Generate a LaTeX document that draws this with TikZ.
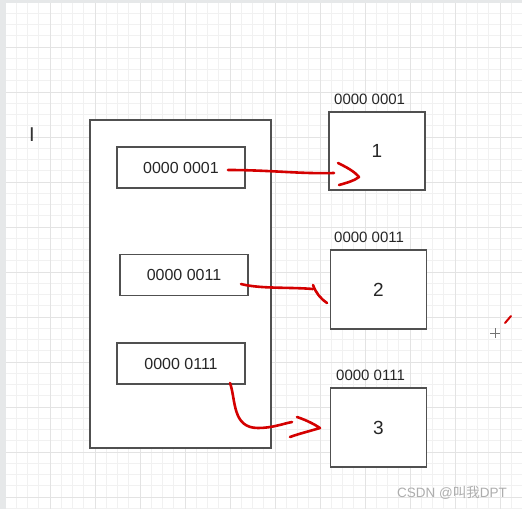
\documentclass[tikz,border=0pt]{standalone}
\usepackage{fontspec}
\usetikzlibrary{calc}
\setmainfont{Liberation Sans}
\newfontfamily\cjk{Noto Sans CJK SC}
\definecolor{boxline}{HTML}{505050}
\definecolor{pen}{HTML}{D40000}
\definecolor{gridminor}{HTML}{F1F1F1}
\definecolor{gridmajor}{HTML}{E3E3E3}
\definecolor{band}{HTML}{E6E8E9}
\tikzset{
  cell/.style={draw=boxline, line width=1.2pt, fill=white, inner sep=0pt},
  inner/.style={cell, minimum width=128pt, minimum height=41pt, font=\fontsize{16}{18}\selectfont, text=black!85},
  target/.style={cell, minimum width=96pt, minimum height=79pt, font=\fontsize{19}{21}\selectfont, text=black!85},
  addr/.style={anchor=west, inner sep=0pt, font=\fontsize{15}{17}\selectfont, text=black!85},
  ink/.style={draw=pen, line width=2.6pt, line cap=round, line join=round}
}
\begin{document}
\begin{tikzpicture}[x=1pt, y=-1pt]
\useasboundingbox (0,0) rectangle (522,509);
\fill[white] (0,0) rectangle (522,509);
% grid
\foreach \i in {0,...,46} {
  \draw[gridminor, line width=0.9pt] ({5+\i*11.25},0) -- ({5+\i*11.25},509);
}
\foreach \i in {0,...,45} {
  \draw[gridminor, line width=0.9pt] (0,{2+\i*11.25}) -- (522,{2+\i*11.25});
}
\foreach \i in {0,...,11} {
  \draw[gridmajor, line width=1pt] ({5+\i*45},0) -- ({5+\i*45},509);
  \draw[gridmajor, line width=1pt] (0,{2+\i*45}) -- (522,{2+\i*45});
}
\fill[band] (0,0) rectangle (522,3);
\fill[band] (0,0) rectangle (6,509);

% cursor mark
\node[inner sep=0pt, font=\fontsize{20}{22}\selectfont, text=black!80] (cursor) at (32,134.5) {I};

% memory block
\node[cell, minimum width=181pt, minimum height=328pt] (mem) at (180.5,284) {};
\node[inner] (p1) at (181,167.5) {0000 0001};
\node[inner] (p2) at (184,275) {0000 0011};
\node[inner] (p3) at (181,363.5) {0000 0111};

% targets
\node[target, minimum width=96pt, minimum height=78pt] (t1) at (377,151) {1};
\node[target] (t2) at (378.5,289.5) {2};
\node[target] (t3) at (378.5,427.5) {3};
\node[addr] (l1) at (334,99) {0000 0001};
\node[addr] (l2) at (334,237) {0000 0011};
\node[addr] (l3) at (336,375) {0000 0111};

% hand-drawn arrows
\coordinate (a1s) at (228,170);
\coordinate (a1e) at (334,173);
\coordinate (h1a) at (338,163);
\coordinate (h1b) at (359,177);
\coordinate (h1c) at (339,185);
\draw[ink] (a1s) .. controls (270,170) and (300,174) .. (a1e);
\draw[ink] (h1a) .. controls (346,167) and (354,171) .. (h1b) .. controls (354,181) and (346,183) .. (h1c);

\coordinate (a2s) at (241,284);
\coordinate (a2e) at (313,289);
\coordinate (h2a) at (313,285);
\coordinate (h2b) at (327,303);
\draw[ink] (a2s) .. controls (260,289) and (290,287) .. (a2e);
\draw[ink] (h2a) .. controls (316,293) and (320,298) .. (h2b);

\coordinate (a3s) at (230,383);
\coordinate (a3e) at (292,422);
\coordinate (h3a) at (297,417);
\coordinate (h3b) at (320,428);
\coordinate (h3c) at (290,437);
\draw[ink] (a3s) .. controls (236,400) and (232,428) .. (258,428) .. controls (272,428) and (282,424) .. (a3e);
\draw[ink] (h3a) .. controls (306,420) and (314,424) .. (h3b) .. controls (310,431) and (298,434) .. (h3c);

% pen tick and crosshair
\coordinate (tk1) at (511,316);
\coordinate (tk2) at (505,323);
\draw[ink, line width=2pt] (tk1) -- (tk2);
\coordinate (cx) at (495,333);
\draw[black!55, line width=0.8pt] ($(cx)+(-5,0)$) -- ($(cx)+(5,0)$) ($(cx)+(0,-5)$) -- ($(cx)+(0,5)$);

% watermark
\node[anchor=west, inner sep=0pt, text=black!32, font=\fontsize{13.5}{15}\selectfont] (wm) at (397,493) {CSDN @{\cjk 叫我}DPT};
\end{tikzpicture}
\end{document}
